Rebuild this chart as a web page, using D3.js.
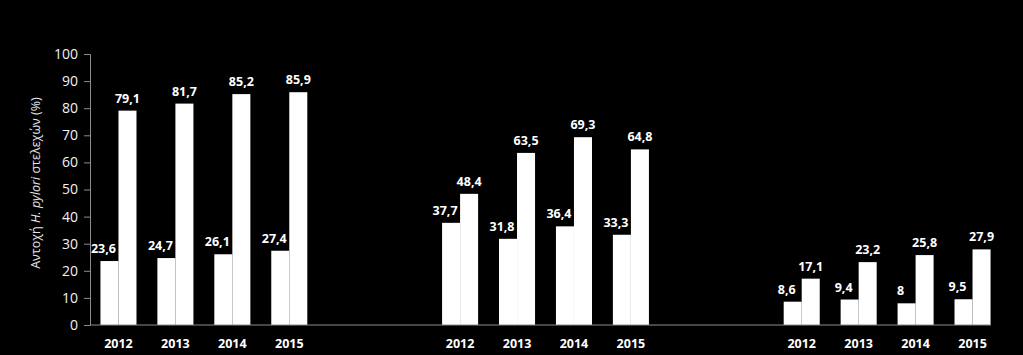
<!DOCTYPE html>
<html>
<head>
<meta charset="utf-8">
<script src="https://d3js.org/d3.v7.min.js"></script>
<style>
  html, body { margin: 0; padding: 0; background: #000; }
  svg { display: block; }
</style>
</head>
<body>
<script>
// Data
const years = ["2012", "2013", "2014", "2015"];
const groups = ["g1", "g2", "g3"];
const seriesLow = [
  [23.6, 24.7, 26.1, 27.4],
  [37.7, 31.8, 36.4, 33.3],
  [8.6, 9.4, 8, 9.5]
];
const seriesHigh = [
  [79.1, 81.7, 85.2, 85.9],
  [48.4, 63.5, 69.3, 64.8],
  [17.1, 23.2, 25.8, 27.9]
];
const yTicks = [0, 10, 20, 30, 40, 50, 60, 70, 80, 90, 100];

const width = 1023, height = 355;
const margin = {top: 54, right: 22, bottom: 30, left: 90};
const font = "'Open Sans', 'Liberation Sans', sans-serif";

const svg = d3.select("body").append("svg")
  .attr("width", width)
  .attr("height", height)
  .style("background", "#000");

// slots: 4 years per group, 2 empty slots between groups
let slots = [];
groups.forEach((g, gi) => {
  years.forEach(y => slots.push(g + "-" + y));
  if (gi < groups.length - 1) { slots.push(g + "-e1"); slots.push(g + "-e2"); }
});

const x = d3.scaleBand()
  .domain(slots)
  .range([margin.left, width - margin.right]);

const xSub = d3.scaleBand()
  .domain(["low", "high"])
  .range([0, x.bandwidth()])
  .paddingOuter(0.58);

const y = d3.scaleLinear()
  .domain([0, 100])
  .range([height - margin.bottom, margin.top]);

// rows of bars
let rows = [];
groups.forEach((g, gi) => {
  years.forEach((yr, yi) => {
    rows.push({slot: g + "-" + yr, year: yr, key: "low", v: seriesLow[gi][yi]});
    rows.push({slot: g + "-" + yr, year: yr, key: "high", v: seriesHigh[gi][yi]});
  });
});

// y axis
const yAxis = svg.append("g")
  .attr("transform", `translate(${margin.left},0)`)
  .call(d3.axisLeft(y).tickValues(yTicks).tickSize(6).tickPadding(6));
yAxis.select(".domain").attr("stroke", "#8c8c8c");
yAxis.selectAll(".tick line").attr("stroke", "#8c8c8c");
yAxis.selectAll(".tick text")
  .attr("fill", "#f2f2f2")
  .style("font-family", font)
  .style("font-size", "14px");

// bars
svg.selectAll("rect.bar")
  .data(rows)
  .join("rect")
    .attr("class", "bar")
    .attr("x", d => x(d.slot) + xSub(d.key))
    .attr("width", xSub.bandwidth())
    .attr("y", d => y(d.v))
    .attr("height", d => y(0) - y(d.v))
    .attr("fill", "#fff");

// x axis baseline
svg.append("line")
  .attr("x1", margin.left).attr("x2", x.range()[1] - 10)
  .attr("y1", y(0)).attr("y2", y(0))
  .attr("stroke", "#8c8c8c");

// value labels
svg.selectAll("text.val")
  .data(rows)
  .join("text")
    .attr("class", "val")
    .attr("x", d => x(d.slot) + xSub(d.key) + xSub.bandwidth() / 2 + (d.key === "low" ? -6 : 0))
    .attr("y", d => y(d.v) - 8)
    .attr("text-anchor", "middle")
    .attr("fill", "#fff")
    .style("font-family", font)
    .style("font-weight", "bold")
    .style("font-size", "12.5px")
    .text(d => String(d.v).replace(".", ","));

// year labels
const yearSlots = slots.filter(s => !/-e\d$/.test(s));
svg.selectAll("text.year")
  .data(yearSlots)
  .join("text")
    .attr("class", "year")
    .attr("x", d => x(d) + x.bandwidth() / 2)
    .attr("y", 348)
    .attr("text-anchor", "middle")
    .attr("fill", "#fff")
    .style("font-family", font)
    .style("font-weight", "bold")
    .style("font-size", "12.5px")
    .text(d => d.split("-")[1]);

// y title
const title = svg.append("text")
  .attr("transform", `translate(40,183) rotate(-90)`)
  .attr("text-anchor", "middle")
  .attr("fill", "#e6e6e6")
  .style("font-family", font)
  .style("font-size", "12.5px");
title.append("tspan").text("Αντοχή ");
title.append("tspan").style("font-style", "italic").text("H. pylori");
title.append("tspan").text(" στελεχών (%)");
</script>
</body>
</html>
